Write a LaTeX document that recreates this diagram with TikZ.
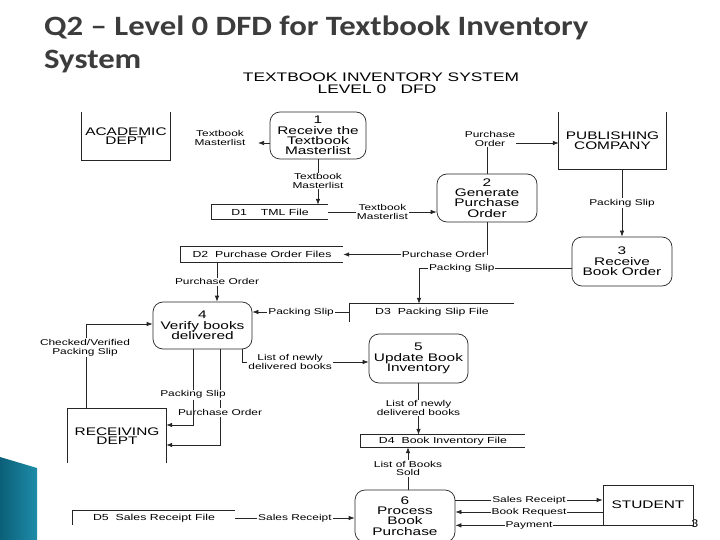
\documentclass[tikz,border=0pt]{standalone}
\usepackage{fontspec}
\setmainfont{Liberation Sans}
\newfontfamily\dfd[FakeStretch=1.4]{Liberation Sans}
\newfontfamily\ttl[FakeStretch=1.17]{Carlito}
\usetikzlibrary{arrows.meta,calc}
\definecolor{titlegray}{HTML}{3C3C3C}
\definecolor{tealA}{HTML}{0B5F78}
\definecolor{tealB}{HTML}{1E8CA8}
\tikzset{
  ln/.style={draw=black!85, line width=0.7pt},
  arr/.style={ln, -{Latex[length=6pt,width=4.5pt]}},
  proc/.style={draw=black!85, line width=0.7pt, rounded corners=10pt, align=center,
    font=\dfd\fontsize{11}{10.3}\selectfont, inner sep=0pt},
  ent/.style={align=center, font=\dfd\fontsize{11}{9.5}\selectfont, inner sep=0pt},
  store/.style={align=center, font=\dfd\fontsize{8.8}{9}\selectfont, inner sep=0pt},
  lbl/.style={font=\dfd\fontsize{8.5}{8.6}\selectfont, fill=white, inner sep=1pt, align=center},
  ttlstyle/.style={anchor=base west, font=\ttl\bfseries\fontsize{28}{29}\selectfont, text=titlegray, inner sep=0},
}
\begin{document}
\begin{tikzpicture}[x=1pt,y=-1pt]
\useasboundingbox (0,0) rectangle (720,540);

% titles
\node[ttlstyle] (t1) at (44,36) {Q2 – Level 0 DFD for Textbook Inventory};
\node[ttlstyle] (t2) at (44,69) {System};
\node[anchor=base, font=\dfd\fontsize{12.4}{12}\selectfont, inner sep=0] (h1) at (381,82) {TEXTBOOK INVENTORY SYSTEM};
\node[anchor=base, font=\dfd\fontsize{12.4}{12}\selectfont, inner sep=0] (h2) at (377,94) {LEVEL 0\ \ \ DFD};

% decoration
\shade[left color=tealA, right color=tealB] (0,457) -- (37,468) -- (37,540) -- (0,540) -- cycle;
\node[anchor=west, font=\ttl\fontsize{12}{12}\selectfont, inner sep=0] (pg) at (691,524) {3};

% external entities
\node[ent, minimum width=88, minimum height=48] (acad) at (126,136) {ACADEMIC\\DEPT};
\draw[ln] (acad.north west) -- (acad.south west) -- (acad.south east) -- (acad.north east);
\node[ent, minimum width=107, minimum height=57] (pub) at (612.5,140.5) {PUBLISHING\\COMPANY};
\draw[ln] (pub.north west) -- (pub.south west) -- (pub.south east) -- (pub.north east);
\node[ent, minimum width=98, minimum height=54] (rec) at (117,436) {RECEIVING\\DEPT};
\draw[ln] (rec.south west) -- (rec.north west) -- (rec.north east) -- (rec.south east);
\node[ent, draw=black!85, line width=0.7pt, minimum width=90, minimum height=40] (stu) at (648,505) {STUDENT};

% processes
\node[proc, minimum width=96, minimum height=47] (p1) at (318,135.5) {1\\Receive the\\Textbook\\Masterlist};
\node[proc, minimum width=100, minimum height=48] (p2) at (487,198) {2\\Generate\\Purchase\\Order};
\node[proc, minimum width=100, minimum height=49] (p3) at (622,261.5) {3\\Receive\\Book Order};
\node[proc, minimum width=99, minimum height=47] (p4) at (202.5,325.5) {4\\Verify books\\delivered};
\node[proc, minimum width=99, minimum height=49] (p5) at (418.5,358.5) {5\\Update Book\\Inventory};
\node[proc, minimum width=100, minimum height=52] (p6) at (405,516) {6\\Process\\Book\\Purchase};

% data stores
\node[store, minimum width=116, minimum height=14] (d1) at (270,212) {D1\ \ \ \ TML File};
\draw[ln] (d1.north east) -- (d1.north west) -- (d1.south west) -- (d1.south east);
\node[store, minimum width=162, minimum height=15] (d2) at (262,254.5) {D2\ \ Purchase Order Files};
\draw[ln] (d2.north east) -- (d2.north west) -- (d2.south west) -- (d2.south east);
\node[store, minimum width=164, minimum height=16] (d3) at (432,312) {D3\ \ Packing Slip File};
\draw[ln] (d3.north east) -- (d3.north west) -- ([yshift=-2]d3.south west);
\node[store, minimum width=164, minimum height=12] (d4) at (443,441) {D4\ \ Book Inventory File};
\draw[ln] (d4.north east) -- (d4.north west) -- (d4.south west) -- (d4.south east);
\node[store, minimum width=162, minimum height=14] (d5) at (154,518) {D5\ \ Sales Receipt File};
\draw[ln] (d5.north east) -- (d5.north west) -- (d5.south west);

% connectors
\coordinate (c1) at (258,143);
\draw[arr] (p1.west |- c1) -- (c1);
\node[lbl, fill=none] (l1) at (220,138) {Textbook\\Masterlist};

\draw[arr] (p1.south) -- (p1.south |- d1.north) node[lbl, midway, yshift=1] (l2) {Textbook\\Masterlist};
\draw[arr] (d1.east) -- (p2.west |- d1.east) node[lbl, midway] (l3) {Textbook\\Masterlist};

\coordinate (c2) at (487,143);
\draw[arr] (p2.north) -- (p2.north |- c2) -- (pub.west |- c2);
\node[lbl] (l4) at (490,139) {Purchase\\Order};

\draw[arr] (p3.north |- pub.south) -- (p3.north) node[lbl, midway] (l5) {Packing Slip};

\draw[arr] (p2.south) |- (d2.east) node[lbl, pos=0.65] (l6) {Purchase Order};
\draw[arr] ([xshift=-45]d2.south) -- ([xshift=14.5]p4.north) node[lbl, midway] (l7) {Purchase Order};

\draw[arr] ([yshift=-6.5]p3.west) -| ([xshift=-13]d3.north) node[lbl, pos=0.36] (l8) {Packing Slip};
\draw[arr] (d3.west) -- (p4.east |- d3.west) node[lbl, midway] (l9) {Packing Slip};

\draw[arr] ([xshift=39.5]p4.south) |- ([yshift=-3.5]p5.west) node[lbl, pos=0.69] (l10) {List of newly\\delivered books};
\draw[arr] (p5.south) -- (p5.south |- d4.north) node[lbl, midway, yshift=1] (l11) {List of newly\\delivered books};
\draw[arr] ([xshift=3]p6.north) -- ([xshift=3]p6.north |- d4.south) node[lbl, midway] (l12) {List of Books\\Sold};

\coordinate (s1) at ([yshift=16]p6.east);
\coordinate (s2) at ([yshift=4]p6.east);
\draw[arr] (s1) -- (stu.west |- s1) node[lbl, midway] (l13) {Sales Receipt};
\draw[arr] (stu.west |- s2) -- (s2) node[lbl, midway] (l14) {Book Request};
\draw[arr] (stu.south west) -- (p6.east |- stu.south west) node[lbl, midway] (l15) {Payment};

\draw[arr] (d5.east) -- (p6.west |- d5.east) node[lbl, midway] (l16) {Sales Receipt};

\draw[arr] ([xshift=-31]rec.north) |- ([yshift=1.5]p4.west) node[lbl, pos=0.36, xshift=-1] (l17) {Checked/Verified\\Packing Slip};
\draw[arr] ([xshift=17.5]p4.south) |- ([yshift=-9]rec.east) node[lbl, pos=0.33] (l19) {Purchase Order};
\draw[arr] ([xshift=-9.5]p4.south) |- ([yshift=11]rec.east) node[lbl, pos=0.3] (l18) {Packing Slip};
\end{tikzpicture}
\end{document}
